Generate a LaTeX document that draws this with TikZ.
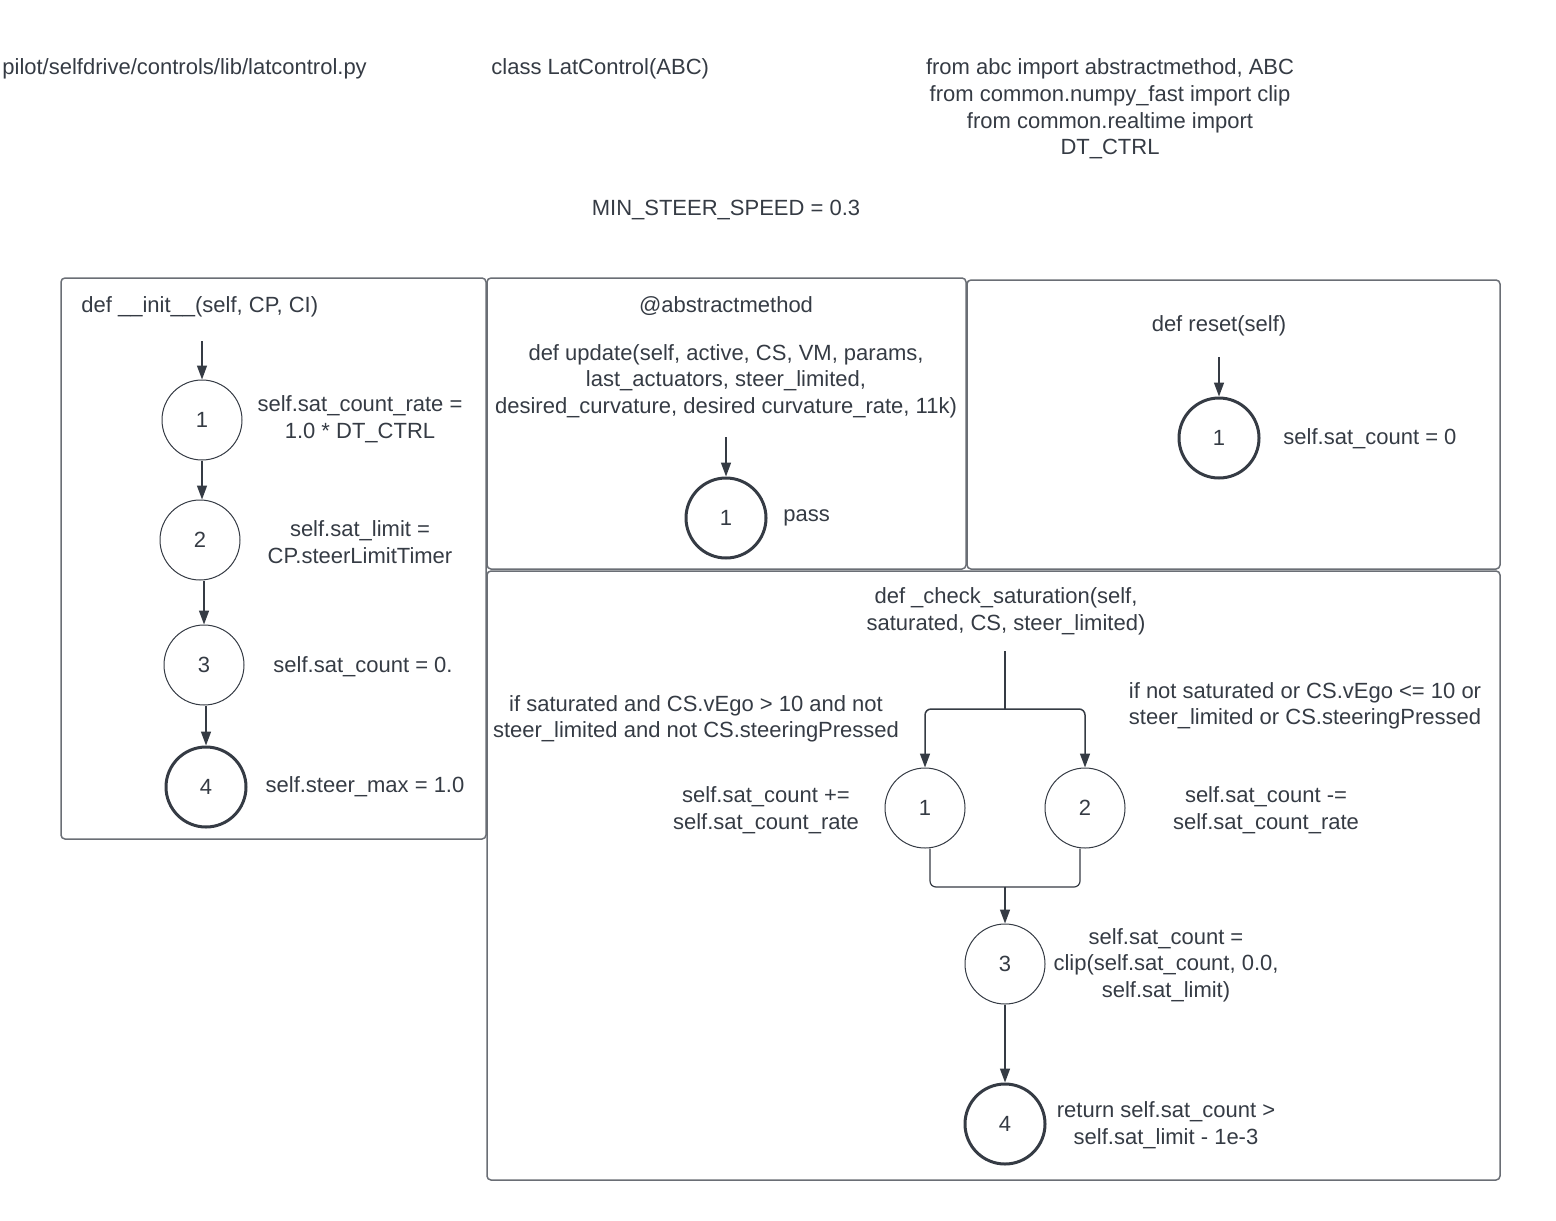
\documentclass[tikz,border=0pt]{standalone}
\usepackage{fontspec}
\setmainfont{Liberation Sans}
\usetikzlibrary{arrows.meta}
\definecolor{ink}{HTML}{353B44}
\definecolor{frame}{HTML}{6A6E75}
\begin{document}
\begin{tikzpicture}[x=0.5pt,y=-0.5pt,
  every node/.style={text=ink,font=\fontsize{11}{13.3}\selectfont},
  lbl/.style={align=center,inner sep=0pt},
  stepnode/.style={circle,draw=ink,line width=0.5pt,minimum size=40pt,inner sep=0pt},
  endnode/.style={stepnode,line width=1.5pt},
  panel/.style={draw=frame,line width=0.75pt,rounded corners=2pt},
  flow/.style={draw=ink,line width=0.75pt,-{Triangle[width=5pt,length=7pt]}},
  wire/.style={draw=ink,line width=0.6pt,rounded corners=3pt}]
\useasboundingbox (0,0) rectangle (1556,1220);

% header texts
\node[lbl,anchor=west] (file) at (2,69) {pilot/selfdrive/controls/lib/latcontrol.py};
\node[lbl,anchor=west] (cls) at (491,69) {class LatControl(ABC)};
\node[lbl] (imports) at (1110,109) {from abc import abstractmethod, ABC\\from common.numpy\_fast import clip\\from common.realtime import\\DT\_CTRL};
\node[lbl] (minspeed) at (726,210) {MIN\_STEER\_SPEED = 0.3};

% panels
\draw[panel] (61,278) rectangle (486,839);
\draw[panel] (487,278) rectangle (966,569);
\draw[panel] (967,280) rectangle (1500,569);
\draw[panel] (487,571) rectangle (1500,1180);

% __init__
\node[lbl,anchor=west] (inittitle) at (81,307) {def \_\_init\_\_(self, CP, CI)};
\coordinate (initstart) at (202,341);
\node[stepnode] (i1) at (202,420) {1};
\node[stepnode] (i2) at (200,540) {2};
\node[stepnode] (i3) at (204,665) {3};
\node[endnode] (i4) at (206,787) {4};
\draw[flow] (initstart) -- (i1);
\draw[flow] (i1.south) -- (i1.south |- i2.north);
\draw[flow] (i3.north |- i2.south) -- (i3.north);
\draw[flow] (i4.north |- i3.south) -- (i4.north);
\node[lbl] (i1t) at (360,419) {self.sat\_count\_rate =\\1.0 * DT\_CTRL};
\node[lbl] (i2t) at (360,542) {self.sat\_limit =\\CP.steerLimitTimer};
\node[lbl] (i3t) at (363,667) {self.sat\_count = 0.};
\node[lbl] (i4t) at (365,787) {self.steer\_max = 1.0};

% update
\node[lbl] (abst) at (726,306) {@abstractmethod};
\node[lbl] (updtitle) at (726,381) {def update(self, active, CS, VM, params,\\last\_actuators, steer\_limited,\\desired\_curvature, desired curvature\_rate, 11k)};
\coordinate (updstart) at (726,437);
\node[endnode] (u1) at (726,518) {1};
\draw[flow] (updstart) -- (u1);
\node[lbl,anchor=west] (u1t) at (783,518) {pass};

% reset
\node[lbl] (restitle) at (1219,326) {def reset(self)};
\coordinate (resstart) at (1219,357);
\node[endnode] (r1) at (1219,438) {1};
\draw[flow] (resstart) -- (r1);
\node[lbl,anchor=west] (r1t) at (1283,439) {self.sat\_count = 0};

% _check_saturation
\node[lbl] (chktitle) at (1006,611) {def \_check\_saturation(self,\\saturated, CS, steer\_limited)};
\coordinate (chkstart) at (1005,651);
\coordinate (split) at (1005,709);
\node[stepnode] (s1) at (925,808) {1};
\node[stepnode] (s2) at (1085,808) {2};
\node[stepnode] (s3) at (1005,964) {3};
\node[endnode] (s4) at (1005,1124) {4};
\coordinate (join) at (1005,887);
\draw[wire] (chkstart) -- (split);
\draw[flow,rounded corners=3pt] (split) -| (s1);
\draw[flow,rounded corners=3pt] (split) -| (s2);
\draw[wire] ([xshift=2.5pt]s1.south) |- (join);
\draw[wire] ([xshift=-2.5pt]s2.south) |- (join);
\draw[flow] (join) -- (s3);
\draw[flow] (s3) -- (s4);
\node[lbl] (cond1) at (696,719) {if saturated and CS.vEgo > 10 and not\\steer\_limited and not CS.steeringPressed};
\node[lbl] (cond2) at (1305,706) {if not saturated or CS.vEgo <= 10 or\\steer\_limited or CS.steeringPressed};
\node[lbl] (s1t) at (766,810) {self.sat\_count +=\\self.sat\_count\_rate};
\node[lbl] (s2t) at (1266,810) {self.sat\_count -=\\self.sat\_count\_rate};
\node[lbl] (s3t) at (1166,965) {self.sat\_count =\\clip(self.sat\_count, 0.0,\\self.sat\_limit)};
\node[lbl] (s4t) at (1166,1125) {return self.sat\_count >\\self.sat\_limit - 1e-3};
\end{tikzpicture}
\end{document}
